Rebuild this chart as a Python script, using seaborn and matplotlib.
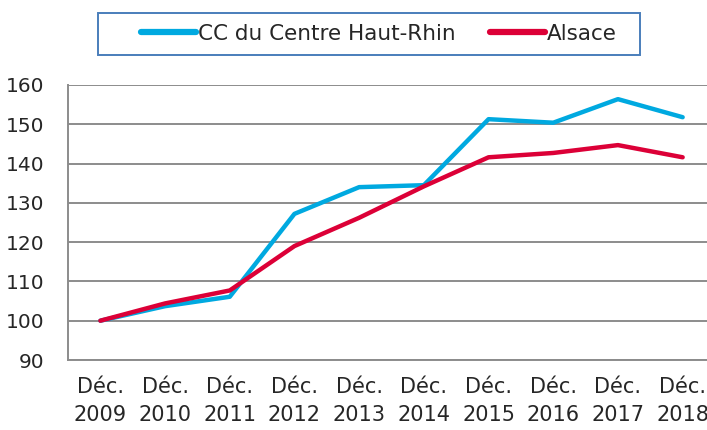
import matplotlib
matplotlib.use("Agg")
import matplotlib.pyplot as plt
import seaborn as sns
import pandas as pd
from matplotlib.lines import Line2D
from matplotlib.patches import Rectangle

years = ["2009", "2010", "2011", "2012", "2013", "2014", "2015", "2016", "2017", "2018"]
labels = ["Déc.\n" + y for y in years]
cc_centre = [100.0, 103.7, 106.1, 127.2, 134.0, 134.5, 151.3, 150.4, 156.4, 151.8]
alsace = [100.0, 104.4, 107.7, 119.0, 126.2, 134.2, 141.6, 142.7, 144.7, 141.6]
series_names = ["CC du Centre Haut-Rhin", "Alsace"]
colors = ["#00A9E0", "#DC0037"]

df = pd.DataFrame({
    "label": labels * 2,
    "value": cc_centre + alsace,
    "series": [series_names[0]] * len(labels) + [series_names[1]] * len(labels),
})

sns.set_style("white")
plt.rcParams["font.family"] = ["DejaVu Sans"]

W, H = 707, 430
fig = plt.figure(figsize=(W / 100, H / 100), dpi=100)
ax = fig.add_axes([68 / W, 1 - 360 / H, (715 - 68) / W, (360 - 85) / H])

sns.lineplot(data=df, x="label", y="value", hue="series", palette=colors,
             linewidth=3.2, ax=ax, sort=False, legend=False)

ax.set_ylim(90, 160)
ax.set_xlim(-0.5, len(labels) - 0.5)
ax.set_yticks(range(90, 161, 10))
ax.yaxis.grid(True, color="#8C8C8C", linewidth=1.4)
ax.set_axisbelow(True)
ax.xaxis.grid(False)
for s in ["top", "right"]:
    ax.spines[s].set_visible(False)
for s in ["left", "bottom"]:
    ax.spines[s].set_color("#8C8C8C")
    ax.spines[s].set_linewidth(1.4)

ax.set_xticks(range(len(labels)))
ax.set_xticklabels(labels, fontsize=15, linespacing=1.55)
ax.set_xticks([i - 0.5 for i in range(len(labels) + 1)], minor=True)
ax.tick_params(axis="x", which="major", length=0, pad=12)
ax.tick_params(axis="x", which="minor", length=7, width=1.4, color="#8C8C8C", direction="out")
ax.tick_params(axis="y", length=7, width=1.4, color="#8C8C8C", direction="out", labelsize=14.5, pad=10)
ax.set_xlabel("")
ax.set_ylabel("")

# legend box
fig.patches.append(Rectangle((98 / W, 1 - 55 / H), (640 - 98) / W, 42 / H,
                             transform=fig.transFigure, fill=False,
                             edgecolor="#4A7EBB", linewidth=1.4))
handles = [Line2D([0], [0], color=c, linewidth=4.5) for c in colors]
leg = fig.legend(handles, series_names, loc="center", ncol=2,
                 bbox_to_anchor=(379 / W, 1 - 34 / H), fontsize=15.5,
                 frameon=False, handlelength=2.55, handletextpad=0.1,
                 columnspacing=1.6, borderpad=0.0, borderaxespad=0)

fig.savefig("out.png", dpi=100)
